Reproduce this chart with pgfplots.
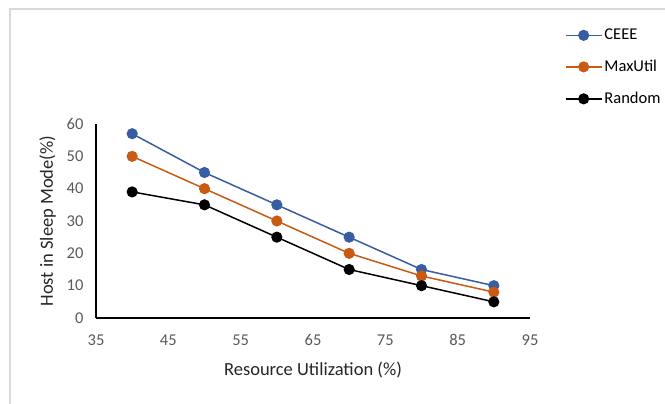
\documentclass[border=0pt]{standalone}
\usepackage{pgfplots}
\pgfplotsset{compat=1.18}
\usepackage{fontspec}
\setmainfont{Carlito}
\definecolor{ceee}{RGB}{56,93,161}
\definecolor{maxu}{RGB}{200,90,20}
\definecolor{tickc}{RGB}{89,89,89}
\definecolor{framec}{RGB}{217,217,217}
\begin{document}
\begin{tikzpicture}[x=1pt,y=1pt]
\useasboundingbox (0,0) rectangle (665,404);
\draw[framec, line width=1.2pt] (10,0) -- (10,395) -- (665,395);
\begin{axis}[
  at={(96pt,86pt)}, anchor=south west,
  width=434pt, height=194pt, scale only axis,
  xmin=35, xmax=95, ymin=0, ymax=60,
  xtick={35,45,...,95}, ytick={0,10,...,60},
  axis x line*=bottom, axis y line*=left,
  axis line style={line width=1.3pt, -},
  major tick length=0pt,
  tick label style={font=\fontsize{16.5}{18}\selectfont, text=tickc},
  /pgf/number format/assume math mode=true,
  xticklabel style={yshift=-13pt},
  yticklabel style={xshift=-9pt},
  xlabel={Resource Utilization (\%)},
  ylabel={Host in Sleep Mode(\%)},
  label style={font=\fontsize{18.5}{20}\selectfont, text=black!85},
  xlabel style={yshift=-9pt},
  ylabel style={yshift=4pt},
  clip=false,
  legend style={draw=none, fill=none, at={(1.08,1.50)}, anchor=north west,
    font=\fontsize{16.5}{18}\selectfont, row sep=15pt,
    legend cell align=left, inner sep=0pt},
  legend image code/.code={\draw[#1] (0pt,0pt) -- (36pt,0pt); \draw[#1, mark repeat=1] plot coordinates {(18pt,0pt)};},
]
\addplot[ceee, line width=1.5pt, mark=*, mark size=4.8pt, mark options={fill=ceee}] coordinates {(40,57) (50,45) (60,35) (70,25) (80,15) (90,10)};
\addlegendentry{CEEE}
\addplot[maxu, line width=1.5pt, mark=*, mark size=4.8pt, mark options={fill=maxu}] coordinates {(40,50) (50,40) (60,30) (70,20) (80,13) (90,8)};
\addlegendentry{MaxUtil}
\addplot[black, line width=1.5pt, mark=*, mark size=4.8pt, mark options={fill=black}] coordinates {(40,39) (50,35) (60,25) (70,15) (80,10) (90,5)};
\addlegendentry{Random}
\end{axis}
\end{tikzpicture}
\end{document}
